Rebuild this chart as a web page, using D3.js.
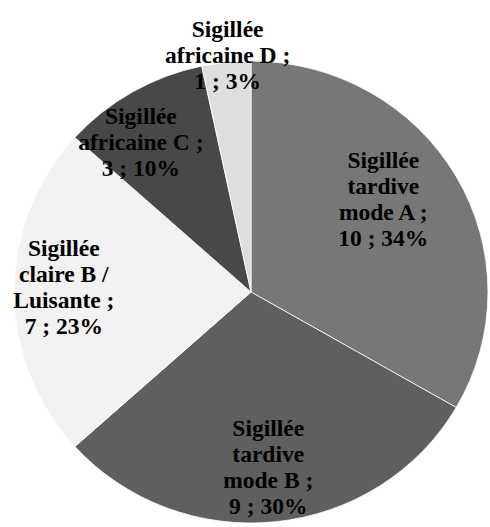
<!DOCTYPE html>
<html>
<head>
<meta charset="utf-8">
<script src="https://cdn.jsdelivr.net/npm/d3@7/dist/d3.min.js"></script>
<style>
  html, body { margin: 0; padding: 0; background: #fff; }
  svg { display: block; }
</style>
</head>
<body>
<svg id="chart" width="490" height="527"></svg>
<script>
// ---- data ----
const categories = [
  "Sigillée\ntardive\nmode A",
  "Sigillée\ntardive\nmode B",
  "Sigillée\nclaire B /\nLuisante",
  "Sigillée\nafricaine C",
  "Sigillée\nafricaine D"
];
const values = [10, 9, 7, 3, 1];
const percentLabels = [34, 30, 23, 10, 3];
const colors = ["#777777", "#5f5f5f", "#f2f2f2", "#484848", "#dedede"];

// ---- layout (label placement: radius fraction & angle nudge in degrees) ----
const labelRadius = [0.69, 0.76, 0.79, 0.80, 1.03];
const labelAngleNudge = [-6, 0.5, 1.5, -5.5, 0.5];

const W = 490, H = 527;
const cx = 251, cy = 292, rx = 237, ry = 231;

const svg = d3.select("#chart");
const pie = d3.pie().sort(null).value(d => d)(values);
const arc = d3.arc().innerRadius(0).outerRadius(rx);

svg.append("g")
  .attr("transform", `translate(${cx},${cy}) scale(1,${ry / rx})`)
  .selectAll("path")
  .data(pie)
  .join("path")
  .attr("d", arc)
  .attr("fill", (d, i) => colors[i])
  .attr("stroke", "#ffffff")
  .attr("stroke-width", 0.8);

const lineH = 26;
const labels = svg.append("g")
  .attr("font-family", "'Liberation Serif', 'Times New Roman', serif")
  .attr("font-weight", "bold")
  .attr("font-size", 23.5)
  .attr("fill", "#000")
  .attr("text-anchor", "middle");

pie.forEach((d, i) => {
  const a = (d.startAngle + d.endAngle) / 2 + labelAngleNudge[i] * Math.PI / 180;
  const x = cx + rx * labelRadius[i] * Math.sin(a);
  const y = cy - ry * labelRadius[i] * Math.cos(a);
  const lines = categories[i].split("\n");
  lines[lines.length - 1] += " ;";
  lines.push(`${values[i]} ; ${percentLabels[i]}%`);
  const t = labels.append("text").attr("x", x).attr("y", y);
  lines.forEach((ln, j) => {
    t.append("tspan")
      .attr("x", x)
      .attr("y", y + (j - (lines.length - 1) / 2) * lineH)
      .attr("dy", "0.35em")
      .text(ln);
  });
});
</script>
</body>
</html>
